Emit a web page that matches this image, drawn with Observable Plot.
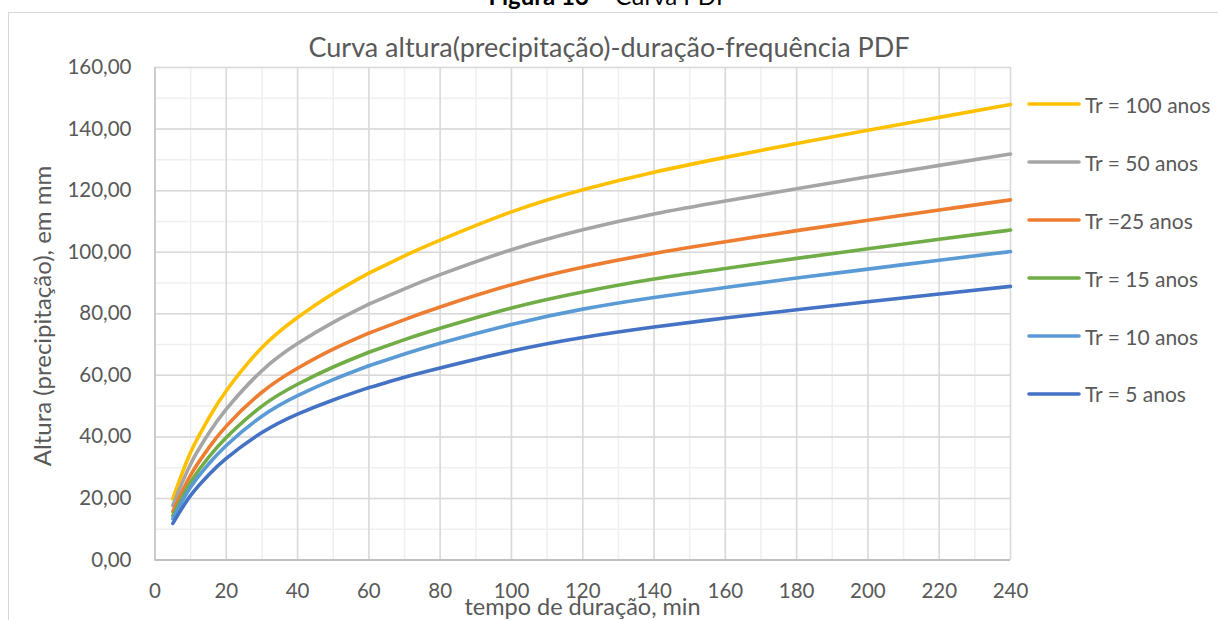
<!DOCTYPE html>
<html lang="pt">
<head>
<meta charset="utf-8">
<script src="https://cdn.jsdelivr.net/npm/d3@7"></script>
<script src="https://cdn.jsdelivr.net/npm/@observablehq/plot@0.6"></script>
<style>
  html, body { margin: 0; padding: 0; background: #fff; }
  #wrap { position: relative; width: 1218px; height: 620px; overflow: hidden; font-family: Lato, "Open Sans", sans-serif; color: #595959; }
  #caption { position: absolute; left: 0; width: 1218px; top: -19px; text-align: center; font-size: 24px; line-height: 30px; color: #000; white-space: nowrap; }
  #frame { position: absolute; left: 8px; top: 12px; width: 1300px; height: 700px; border: 1.5px solid #d9d9d9; box-sizing: border-box; }
  #chart { position: absolute; left: 0; top: 0; }
  #title { position: absolute; left: 0; width: 1218px; top: 30px; text-align: center; font-size: 27px; white-space: nowrap; line-height: 34px; }
  #xtitle { position: absolute; left: 155px; width: 855px; top: 592px; text-align: center; font-size: 23.5px; line-height: 28px; white-space: nowrap; }
  #ytitle { position: absolute; left: 42px; top: 316px; font-size: 24px; line-height: 28px; white-space: nowrap; transform: translate(-50%, -50%) rotate(-90deg); }
  #legend { position: absolute; left: 1027px; top: 0; }
  .item { position: absolute; left: 0; height: 30px; display: flex; align-items: center; white-space: nowrap; font-size: 21px; }
  .item svg { margin-right: 4px; }
</style>
</head>
<body>
<div id="wrap">
  <div id="frame"></div>
  <div id="caption"><b>Figura 13</b> – Curva PDF</div>
  <div id="title">Curva altura(precipitação)-duração-frequência PDF</div>
  <div id="chart"></div>
  <div id="xtitle">tempo de duração, min</div>
  <div id="ytitle">Altura (precipitação), em mm</div>
  <div id="legend"></div>
</div>
<script>
// Duração da chuva (min)
const tempo = [5, 10, 15, 20, 30, 40, 50, 60, 70, 80, 100, 120, 140, 160, 180, 200, 220, 240];
// A equação IDF muda em t = 60 min: cada curva é traçada em dois trechos
const duracaoQuebra = 60;

// Altura de precipitação (mm) por tempo de retorno
const tr100 = [19.9, 35.0, 45.9, 55.0, 69.0, 78.8, 86.6, 93.2, 98.8, 103.9, 113.1, 120.3, 126.0, 130.8, 135.3, 139.6, 143.8, 148.0];
const tr50  = [17.7, 31.2, 41.0, 49.0, 61.5, 70.3, 77.2, 83.1, 88.1, 92.7, 100.8, 107.3, 112.4, 116.6, 120.6, 124.5, 128.2, 131.9];
const tr25  = [15.7, 27.6, 36.3, 43.5, 54.5, 62.3, 68.5, 73.7, 78.1, 82.2, 89.4, 95.1, 99.6, 103.4, 107.0, 110.4, 113.7, 117.0];
const tr15  = [14.4, 25.3, 33.3, 39.8, 50.0, 57.1, 62.7, 67.5, 71.6, 75.3, 81.9, 87.1, 91.3, 94.7, 98.0, 101.1, 104.2, 107.2];
const tr10  = [13.4, 23.7, 31.1, 37.2, 46.7, 53.4, 58.6, 63.1, 66.9, 70.4, 76.5, 81.5, 85.3, 88.5, 91.6, 94.5, 97.4, 100.2];
const tr5   = [11.9, 21.0, 27.6, 33.0, 41.4, 47.4, 52.0, 56.0, 59.4, 62.4, 67.9, 72.3, 75.7, 78.6, 81.3, 83.9, 86.4, 88.9];

// Séries na ordem da legenda
const seriesNames = ["Tr = 100 anos", "Tr = 50 anos", "Tr =25 anos", "Tr = 15 anos", "Tr = 10 anos", "Tr = 5 anos"];
const seriesValues = [tr100, tr50, tr25, tr15, tr10, tr5];
const seriesColors = ["#ffc000", "#a5a5a5", "#ed7d31", "#70ad47", "#5b9bd5", "#4472c4"];

const xTicks = d3.range(0, 241, 20);
const yTicks = d3.range(0, 161, 20);

// Linhas em formato longo; o ponto de 60 min pertence aos dois trechos
const rows = seriesNames.flatMap((name, i) =>
  tempo.flatMap((t, j) => {
    const v = seriesValues[i][j];
    const out = [];
    if (t <= duracaoQuebra) out.push({serie: name, trecho: name + "|a", t, v});
    if (t >= duracaoQuebra) out.push({serie: name, trecho: name + "|b", t, v});
    return out;
  })
);

const fmt = d => d.toFixed(2).replace(".", ",");

const chart = Plot.plot({
  width: 1218,
  height: 620,
  marginLeft: 154.5,
  marginRight: 208,
  marginTop: 67,
  marginBottom: 60.5,
  style: {fontFamily: "Lato, 'Open Sans', sans-serif", background: "transparent", overflow: "visible"},
  x: {domain: [0, 240]},
  y: {domain: [0, 160]},
  color: {domain: seriesNames, range: seriesColors},
  marks: [
    // grade secundária (a cada 10)
    Plot.gridX(d3.range(0, 241, 10), {stroke: "#efefef", strokeOpacity: 1, strokeWidth: 1.5}),
    Plot.gridY(d3.range(0, 161, 10), {stroke: "#efefef", strokeOpacity: 1, strokeWidth: 1.5}),
    // grade principal (a cada 20)
    Plot.gridX(xTicks, {stroke: "#d9d9d9", strokeOpacity: 1, strokeWidth: 1.5}),
    Plot.gridY(yTicks, {stroke: "#d9d9d9", strokeOpacity: 1, strokeWidth: 1.5}),
    Plot.ruleX([0], {stroke: "#cccccc", strokeWidth: 2}),
    Plot.ruleY([0], {stroke: "#bfbfbf", strokeWidth: 2}),
    Plot.line(rows, {
      x: "t", y: "v", z: "trecho", stroke: "serie",
      strokeWidth: 3.6, curve: "natural", strokeLinecap: "round", strokeLinejoin: "round"
    }),
    Plot.axisX(xTicks, {tickSize: 0, tickPadding: 23, fontSize: 20.5, fill: "#595959", label: null, tickFormat: d => String(d)}),
    Plot.axisY(yTicks, {tickSize: 0, tickPadding: 23.5, fontSize: 20.5, fill: "#595959", label: null, tickFormat: fmt})
  ]
});
document.getElementById("chart").appendChild(chart);

// Legenda à direita
const legend = document.getElementById("legend");
const legendY = [104, 162, 220, 278, 336, 393.5];
seriesNames.forEach((name, i) => {
  const item = document.createElement("div");
  item.className = "item";
  item.style.top = (legendY[i] - 15) + "px";
  item.innerHTML = `<svg width="54" height="8"><line x1="2" y1="4" x2="52" y2="4" stroke="${seriesColors[i]}" stroke-width="3.6" stroke-linecap="round"/></svg><span>${name}</span>`;
  legend.appendChild(item);
});
</script>
</body>
</html>
